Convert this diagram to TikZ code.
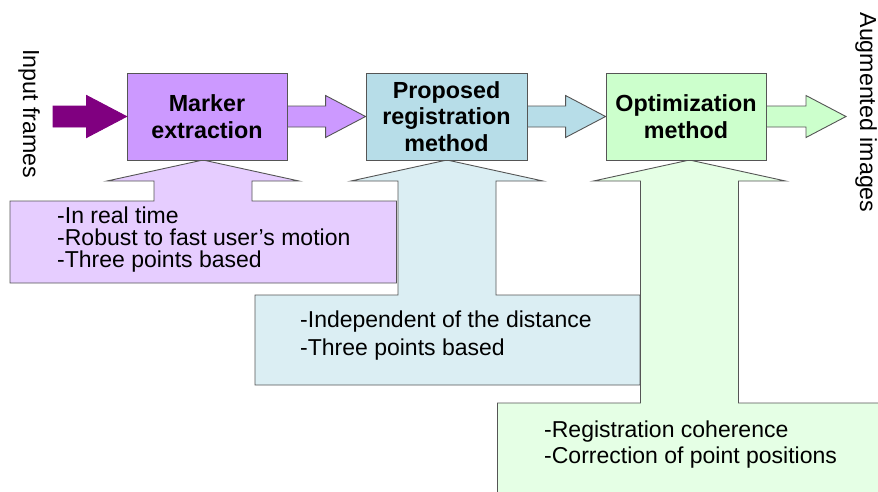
\documentclass[tikz,border=0pt]{standalone}
\usepackage{fontspec}
\setmainfont{Liberation Sans}
\usetikzlibrary{calc}
\definecolor{purpleIn}{RGB}{128,0,128}
\definecolor{purpleBox}{RGB}{204,153,255}
\definecolor{purpleNote}{RGB}{230,205,255}
\definecolor{blueBox}{RGB}{183,221,232}
\definecolor{blueNote}{RGB}{219,238,243}
\definecolor{greenBox}{RGB}{204,255,204}
\definecolor{greenNote}{RGB}{229,255,229}
\definecolor{edgegray}{RGB}{85,85,85}
\tikzstyle{procbox}=[rectangle,draw=edgegray,line width=0.9pt,minimum width=160pt,minimum height=87pt,inner sep=0pt,align=center,font=\fontsize{23.3}{26.5}\selectfont\bfseries]
\tikzstyle{callout}=[draw=edgegray,line width=0.9pt,line join=miter]
\tikzstyle{note}=[inner sep=0pt,anchor=base west,font=\fontsize{23}{26}\selectfont]
\tikzstyle{sidelabel}=[inner sep=0pt,rotate=-90,font=\fontsize{23.2}{26}\selectfont]
% block arrow: from, to, fill, border
\newcommand{\blockarrow}[4]{%
  \filldraw[fill=#3,draw=#4,line width=0.9pt] ($(#1)+(0,-10.5)$) -- ($(#2)+(-40,-10.5)$) -- ($(#2)+(-40,-21)$) -- (#2)
    -- ($(#2)+(-40,21)$) -- ($(#2)+(-40,10.5)$) -- ($(#1)+(0,10.5)$) -- cycle;}

\begin{document}
\begin{tikzpicture}[x=1pt,y=-1pt]
\clip (0,0) rectangle (878,491);

%callouts
  \foreach \cx/\ty/\bl/\br/\by/\col in {203/201/10/396.5/283/purpleNote, 447/295/255/640/385/blueNote, 689.5/403/497.5/900/510/greenNote}
    \filldraw[callout, fill=\col] (\cx,160) -- (\cx+96,181) -- (\cx+49,181) -- (\cx+49,\ty) -- (\br,\ty) -- (\br,\by)
      -- (\bl,\by) -- (\bl,\ty) -- (\cx-49,\ty) -- (\cx-49,181) -- (\cx-96,181) -- cycle;

%process boxes
\node[procbox, fill=purpleBox] (marker) at (207,116.5) {Marker\\extraction};
\node[procbox, fill=blueBox, minimum width=161pt] (regist) at (446.5,116.5) {Proposed\\registration\\method};
\node[procbox, fill=greenBox] (optim) at (686,116.5) {Optimization\\method};

\coordinate (inStart) at (53,116.5);
\coordinate (outEnd) at (846,116.5);
  \foreach \source/\dest/\col/\edge in {inStart/marker.west/purpleIn/purpleIn, marker.east/regist.west/purpleBox/edgegray, regist.east/optim.west/blueBox/edgegray, optim.east/outEnd/greenBox/edgegray}
    {\blockarrow{\source}{\dest}{\col}{\edge}}

\node[sidelabel] (inframes) at (29,113.5) {Input frames};
\node[sidelabel] (augm) at (866,112.5) {Augmented images};

%notes
  \foreach \pos/\name/\txt in {{(57,223)/ma/-In real time}, {(57,245)/mb/-Robust to fast user’s motion}, {(57,267)/mc/-Three points based},
      {(300,327)/ra/-Independent of the distance}, {(300,355)/rb/-Three points based},
      {(544,437)/oa/-Registration coherence}, {(544,463)/ob/-Correction of point positions}}
    \node[note] (\name) at \pos {\txt};

\end{tikzpicture}
\end{document}
